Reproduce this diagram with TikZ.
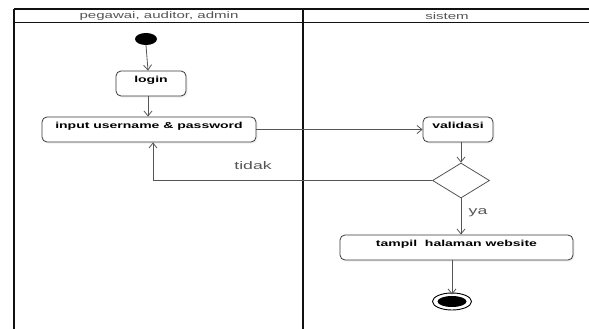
\documentclass[tikz,border=0pt]{standalone}
\usepackage{fontspec}
\setmainfont{Liberation Sans}
\newfontfamily\wide[FakeStretch=1.6]{Liberation Sans}
\usetikzlibrary{shapes.geometric,arrows.meta,shadows}
\definecolor{lane}{HTML}{111111}
\definecolor{conn}{HTML}{555555}
\definecolor{boxline}{HTML}{3A3A3A}
\definecolor{hdr}{HTML}{555555}
\begin{document}
\begin{tikzpicture}[x=1pt,y=-1pt,
  actbox/.style={draw=boxline,fill=white,line width=0.8pt,rounded corners=5pt,minimum height=25pt,inner sep=0pt,
    text height=6pt,text depth=9pt,
    drop shadow={shadow xshift=1.5pt,shadow yshift=-1.5pt,opacity=0.12},
    font=\wide\fontsize{8.75}{10}\selectfont\bfseries,text=black,anchor=center},
  conline/.style={draw=conn,line width=0.8pt},
  arr/.style={conline,-{Straight Barb[length=5pt,width=8pt]}},
  lanehdr/.style={font=\wide\fontsize{9.4}{11}\selectfont,text=hdr},
  guard/.style={font=\wide\fontsize{11}{13}\selectfont,text=hdr}]
\useasboundingbox (0,0) rectangle (589,329);
\fill[white] (0,0) rectangle (589,329);
% swimlanes
\draw[lane,line width=1.4pt] (14,9) -- (589,9);
\draw[lane,line width=1.4pt] (14,22.5) -- (589,22.5);
\draw[lane,line width=2pt] (14,9) -- (14,329);
\draw[lane,line width=2pt] (303,9) -- (303,329);
\node[lanehdr] (h1) at (159,16.3) {pegawai, auditor, admin};
\node[lanehdr] (h2) at (447,16.3) {sistem};
% nodes
\node[ellipse,fill=black,minimum width=22pt,minimum height=12pt,inner sep=0pt] (start) at (146,39) {};
\node[actbox,minimum width=70pt] (login) at (151,83.5) {login};
\node[actbox,minimum width=214pt] (input) at (149,129.5) {input username \& password};
\node[actbox,minimum width=70pt] (valid) at (458,129.5) {validasi};
\node[diamond,draw=conn,line width=0.8pt,minimum width=57pt,minimum height=35pt,inner sep=0pt] (dec) at (461,180.5) {};
\node[actbox,minimum width=233pt] (tampil) at (456.5,247.5) {tampil\ \ halaman website};
\node[ellipse,draw=black,line width=0.9pt,minimum width=39pt,minimum height=17pt,inner sep=0pt] (final) at (452,301.5) {};
\node[ellipse,fill=black,minimum width=29pt,minimum height=11pt,inner sep=0pt] (finalin) at (final) {};
% connectors
\draw[arr] (start.south) -- ([xshift=-3pt]login.north);
\draw[arr] ([xshift=-3pt]login.south) -- ([xshift=-3pt]login.south |- input.north);
\draw[arr] (input.east) -- (valid.west);
\draw[arr] (dec.north |- valid.south) -- (dec.north);
\draw[arr] (dec.west) -| ([xshift=4pt]input.south);
\node[guard] (tidak) at (253,166) {tidak};
\draw[arr] (dec.south) -- (dec.south |- tampil.north);
\node[guard] (ya) at (478,213) {ya};
\draw[arr] (final.north |- tampil.south) -- ([yshift=-2pt]final.north);
\end{tikzpicture}
\end{document}
